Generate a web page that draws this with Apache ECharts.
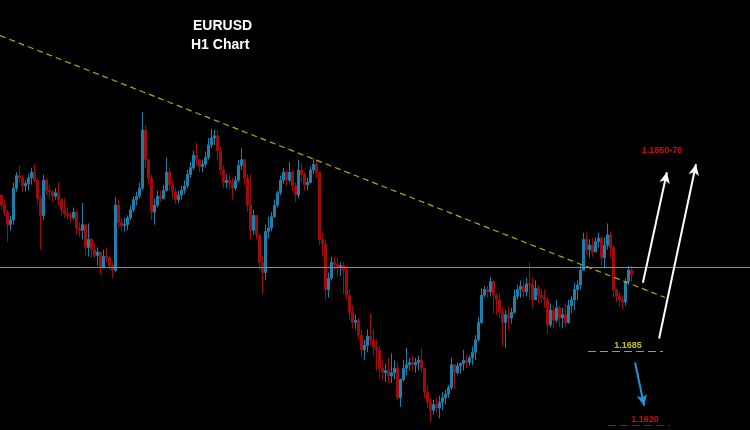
<!DOCTYPE html>
<html><head><meta charset="utf-8">
<script src="https://cdn.jsdelivr.net/npm/echarts@6/dist/echarts.min.js"></script>
<style>html,body{margin:0;padding:0;background:#000}#c{width:750px;height:430px}</style>
</head><body><div id="c"></div><script>
// ---- data (EURUSD H1) ----
const firstOpen = 1.1822;
const closes = [
1.1813,1.1807,1.1796,1.1800,1.1828,1.1839,1.1837,1.1830,1.1832,1.1837,
1.1842,1.1835,1.1819,1.1804,1.1835,1.1826,1.1825,1.1821,1.1824,1.1818,
1.1809,1.1806,1.1804,1.1802,1.1807,1.1793,1.1791,1.1796,1.1776,1.1783,
1.1774,1.1769,1.1772,1.1758,1.1768,1.1767,1.1760,1.1756,1.1813,1.1798,
1.1795,1.1796,1.1802,1.1809,1.1818,1.1821,1.1828,1.1879,1.1853,1.1837,
1.1807,1.1813,1.1821,1.1819,1.1826,1.1842,1.1831,1.1825,1.1818,1.1822,
1.1826,1.1830,1.1840,1.1846,1.1857,1.1853,1.1847,1.1849,1.1855,1.1866,
1.1872,1.1874,1.1861,1.1844,1.1833,1.1835,1.1833,1.1828,1.1835,1.1848,
1.1853,1.1837,1.1813,1.1791,1.1804,1.1787,1.1763,1.1754,1.1790,1.1793,
1.1803,1.1813,1.1824,1.1835,1.1842,1.1835,1.1842,1.1830,1.1822,1.1844,
1.1840,1.1831,1.1833,1.1844,1.1849,1.1842,1.1783,1.1779,1.1739,1.1749,
1.1763,1.1761,1.1758,1.1760,1.1756,1.1734,1.1719,1.1710,1.1712,1.1699,
1.1686,1.1690,1.1698,1.1695,1.1688,1.1686,1.1670,1.1666,1.1668,1.1663,
1.1666,1.1670,1.1644,1.1660,1.1670,1.1673,1.1675,1.1673,1.1675,1.1677,
1.1670,1.1649,1.1640,1.1633,1.1638,1.1635,1.1640,1.1644,1.1647,1.1653,
1.1673,1.1666,1.1672,1.1674,1.1677,1.1675,1.1679,1.1684,1.1695,1.1710,
1.1734,1.1739,1.1737,1.1746,1.1734,1.1730,1.1719,1.1710,1.1717,1.1714,
1.1719,1.1733,1.1739,1.1742,1.1737,1.1744,1.1743,1.1730,1.1740,1.1734,
1.1732,1.1730,1.1708,1.1721,1.1712,1.1723,1.1714,1.1717,1.1710,1.1725,
1.1730,1.1739,1.1743,1.1756,1.1783,1.1774,1.1778,1.1772,1.1781,1.1784,
1.1767,1.1778,1.1787,1.1776,1.1739,1.1733,1.1730,1.1728,1.1746,1.1756,1.1752
];
const highs = [
1.1822,1.1818,1.1809,1.1804,1.1833,1.1842,1.1848,1.1840,1.1835,1.1840,
1.1846,1.1849,1.1837,1.1822,1.1840,1.1837,1.1831,1.1826,1.1828,1.1833,
1.1819,1.1819,1.1811,1.1807,1.1811,1.1809,1.1798,1.1815,1.1796,1.1797,
1.1784,1.1780,1.1776,1.1769,1.1774,1.1776,1.1769,1.1763,1.1820,1.1818,
1.1802,1.1802,1.1804,1.1813,1.1821,1.1825,1.1833,1.1895,1.1883,1.1853,
1.1840,1.1819,1.1826,1.1826,1.1831,1.1855,1.1846,1.1835,1.1828,1.1826,
1.1830,1.1835,1.1844,1.1851,1.1861,1.1868,1.1854,1.1853,1.1860,1.1872,
1.1880,1.1879,1.1879,1.1864,1.1848,1.1840,1.1839,1.1837,1.1839,1.1853,
1.1863,1.1853,1.1840,1.1840,1.1809,1.1804,1.1787,1.1769,1.1796,1.1803,
1.1807,1.1818,1.1826,1.1839,1.1846,1.1844,1.1851,1.1844,1.1833,1.1853,
1.1850,1.1842,1.1837,1.1847,1.1854,1.1853,1.1842,1.1789,1.1783,1.1754,
1.1768,1.1768,1.1767,1.1763,1.1763,1.1760,1.1739,1.1725,1.1717,1.1714,
1.1704,1.1695,1.1704,1.1718,1.1704,1.1695,1.1690,1.1677,1.1674,1.1679,
1.1683,1.1677,1.1675,1.1661,1.1677,1.1688,1.1679,1.1681,1.1679,1.1681,
1.1688,1.1670,1.1655,1.1644,1.1642,1.1644,1.1646,1.1649,1.1651,1.1655,
1.1679,1.1673,1.1675,1.1675,1.1686,1.1681,1.1681,1.1689,1.1699,1.1715,
1.1740,1.1742,1.1742,1.1750,1.1747,1.1736,1.1736,1.1723,1.1721,1.1724,
1.1723,1.1739,1.1743,1.1747,1.1747,1.1749,1.1763,1.1750,1.1747,1.1743,
1.1740,1.1739,1.1732,1.1727,1.1725,1.1730,1.1725,1.1723,1.1727,1.1730,
1.1733,1.1745,1.1747,1.1760,1.1789,1.1789,1.1783,1.1784,1.1785,1.1789,
1.1786,1.1785,1.1797,1.1790,1.1778,1.1740,1.1737,1.1734,1.1749,1.1760,1.1760
];
const lows = [
1.1809,1.1804,1.1781,1.1791,1.1796,1.1825,1.1833,1.1825,1.1825,1.1826,
1.1831,1.1833,1.1813,1.1774,1.1800,1.1822,1.1818,1.1816,1.1818,1.1813,
1.1804,1.1802,1.1800,1.1798,1.1800,1.1787,1.1785,1.1783,1.1769,1.1768,
1.1767,1.1767,1.1760,1.1752,1.1758,1.1763,1.1756,1.1749,1.1754,1.1793,
1.1790,1.1790,1.1791,1.1800,1.1807,1.1813,1.1819,1.1826,1.1846,1.1831,
1.1800,1.1796,1.1811,1.1816,1.1818,1.1825,1.1826,1.1819,1.1814,1.1815,
1.1818,1.1823,1.1828,1.1837,1.1844,1.1848,1.1842,1.1842,1.1846,1.1853,
1.1863,1.1866,1.1853,1.1840,1.1828,1.1828,1.1826,1.1818,1.1826,1.1833,
1.1844,1.1831,1.1807,1.1783,1.1787,1.1783,1.1756,1.1735,1.1747,1.1784,
1.1790,1.1802,1.1811,1.1822,1.1832,1.1830,1.1833,1.1825,1.1816,1.1819,
1.1833,1.1826,1.1826,1.1832,1.1840,1.1837,1.1778,1.1768,1.1730,1.1732,
1.1747,1.1756,1.1750,1.1751,1.1735,1.1730,1.1712,1.1705,1.1704,1.1695,
1.1680,1.1677,1.1684,1.1690,1.1681,1.1668,1.1661,1.1660,1.1658,1.1657,
1.1657,1.1660,1.1642,1.1636,1.1658,1.1664,1.1668,1.1668,1.1666,1.1668,
1.1666,1.1644,1.1635,1.1623,1.1629,1.1631,1.1626,1.1633,1.1638,1.1644,
1.1651,1.1651,1.1664,1.1665,1.1668,1.1670,1.1672,1.1673,1.1677,1.1693,
1.1709,1.1732,1.1732,1.1733,1.1718,1.1717,1.1714,1.1689,1.1688,1.1704,
1.1709,1.1718,1.1730,1.1732,1.1732,1.1733,1.1730,1.1723,1.1730,1.1727,
1.1727,1.1723,1.1700,1.1706,1.1705,1.1710,1.1706,1.1705,1.1706,1.1709,
1.1718,1.1721,1.1730,1.1739,1.1756,1.1769,1.1767,1.1768,1.1772,1.1776,
1.1760,1.1758,1.1774,1.1767,1.1732,1.1728,1.1724,1.1722,1.1725,1.1743,1.1746
];
// annotations (bar index, price)
const trendLine = [[-0.5, 1.1962], [221.2, 1.1732]];
const hLevel = 1.1759;
const arrowUp1 = [[213.8, 1.1745], [221.8, 1.1842]];
const arrowUp2 = [[219.2, 1.1696], [231.5, 1.1849]];
const arrowDown = [[211.2, 1.1675], [214.2, 1.1637]];
const level1685 = [[195.5, 1.1685], [220.5, 1.1685]];
const level1620 = [[202.2, 1.1620], [222.8, 1.1620]];
const labelNames = ['1.1850-70', '1.1685', '1.1620'];
const labelPos = [[220.2, 1.1861], [208.8, 1.1690], [214.5, 1.1625]];
const labelColors = ['#ff1010', '#f2f200', '#ff1010'];

// ---- build ----
const X_MIN = -0.5, X_MAX = 249.5;
const candles = closes.map((c, i) => [i, i === 0 ? firstOpen : closes[i - 1], c, lows[i], highs[i]]);
const seg = (pts, style, sym) => ({
  type: 'line', data: [], silent: true,
  markLine: {
    silent: true, animation: false, symbol: sym, symbolSize: [8, 11],
    label: { show: false }, lineStyle: style,
    data: [[{ coord: pts[0] }, { coord: pts[1] }]]
  }
});
const titleStyle = { color: '#fff', fontSize: 14, fontWeight: 'bold', fontFamily: 'Liberation Sans' };

const chart = echarts.init(document.getElementById('c'));
chart.setOption({
  animation: false,
  backgroundColor: '#000',
  title: [
    { text: 'EURUSD', left: 193, top: 19, padding: 0, textStyle: titleStyle },
    { text: 'H1 Chart', left: 191, top: 38, padding: 0, textStyle: titleStyle }
  ],
  grid: { left: 0, right: 0, top: 0, bottom: 0 },
  xAxis: { type: 'value', min: X_MIN, max: X_MAX, show: false, splitLine: { show: false } },
  yAxis: { type: 'value', min: 1.16157, max: 1.19932, show: false, splitLine: { show: false } },
  series: [
    seg([[X_MIN, hLevel], [X_MAX, hLevel]], { color: '#8a8a8a', width: 1, type: 'solid' }, 'none'),
    seg(trendLine, { color: '#b3ad00', width: 1.2, type: [6, 4] }, 'none'),
    {
      type: 'candlestick', data: candles, encode: { x: 0, y: [1, 2, 3, 4] },
      barWidth: 2.5,
      itemStyle: { color: '#1c80ad', color0: '#a00c0c', borderColor: '#1c80ad', borderColor0: '#a00c0c', borderWidth: 1 }
    },
    seg(level1685, { color: '#a8a800', width: 1, type: [8, 4] }, 'none'),
    seg(level1620, { color: '#c00000', width: 1, type: [8, 4] }, 'none'),
    seg(arrowUp1, { color: '#ffffff', width: 2, type: 'solid' }, ['none', 'arrow']),
    seg(arrowUp2, { color: '#ffffff', width: 2, type: 'solid' }, ['none', 'arrow']),
    seg(arrowDown, { color: '#1e96dc', width: 2, type: 'solid' }, ['none', 'arrow']),
    {
      type: 'scatter', symbolSize: 0, silent: true,
      data: labelPos.map((p, i) => ({ value: p, name: labelNames[i],
        label: { show: true, position: 'inside', formatter: labelNames[i], color: labelColors[i],
          fontSize: 9, fontWeight: 'bold', fontFamily: 'Liberation Sans' } }))
    }
  ]
});
</script></body></html>
